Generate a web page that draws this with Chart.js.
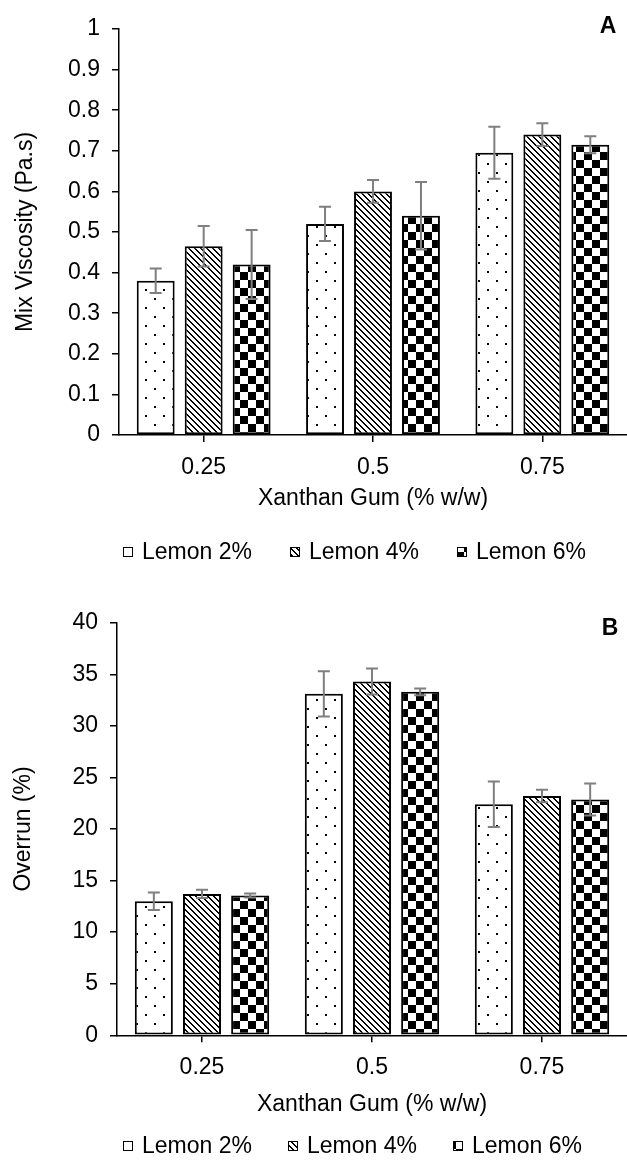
<!DOCTYPE html>
<html><head><meta charset="utf-8">
<script src="https://cdn.jsdelivr.net/npm/chart.js@4.4.0/dist/chart.umd.min.js"></script>
<style>
html,body{margin:0;padding:0;background:#fff;}
.wrap{position:relative;width:627px;height:581px;}
canvas{display:block;}
</style></head><body>
<div class="wrap"><canvas id="c1" width="627" height="581"></canvas></div>
<div class="wrap"><canvas id="c2" width="627" height="581"></canvas></div>
<script>
// ---- data ----
const categories = ['0.25', '0.5', '0.75'];
const seriesNames = ['Lemon 2%', 'Lemon 4%', 'Lemon 6%'];

const viscLemon2 = [0.38, 0.52, 0.695];
const viscLemon4 = [0.465, 0.60, 0.74];
const viscLemon6 = [0.42, 0.54, 0.715];
const viscErr2 = [0.03, 0.042, 0.064];
const viscErr4 = [0.05, 0.028, 0.028];
const viscErr6 = [0.085, 0.083, 0.021];

const overLemon2 = [13.0, 33.1, 22.4];
const overLemon4 = [13.7, 34.3, 23.2];
const overLemon6 = [13.55, 33.3, 22.85];
const overErr2 = [0.85, 2.2, 2.2];
const overErr4 = [0.4, 1.25, 0.6];
const overErr6 = [0.2, 0.33, 1.55];

// ---- patterns ----
function makeTile(w, h, draw) {
  const c = document.createElement('canvas'); c.width = w; c.height = h;
  const x = c.getContext('2d'); x.fillStyle = '#fff'; x.fillRect(0, 0, w, h);
  x.fillStyle = '#000'; draw(x, w, h); return c;
}
const tileDots = makeTile(18, 18, (x) => { x.fillRect(1, 1, 2, 2); x.fillRect(10, 10, 2, 2); });
const tileDiag = makeTile(6, 6, (x) => { for (let i = 0; i < 6; i++) { x.fillRect(i, i, 1, 1); x.fillRect((i + 1) % 6, i, 1, 1); } });
const tileCheck = makeTile(16, 16, (x) => { x.fillRect(0, 0, 8, 8); x.fillRect(8, 8, 8, 8); });
const tiles = [tileDots, tileDiag, tileCheck];

const FONT = "'Liberation Sans', Arial, Helvetica, sans-serif";
Chart.defaults.font.family = FONT;
Chart.defaults.font.size = 23;
Chart.defaults.color = '#000';

const errorBarPlugin = {
  id: 'errbars',
  afterDatasetsDraw(chart, args, o) {
    const ctx = chart.ctx, ys = chart.scales.y;
    ctx.save(); ctx.strokeStyle = o.color; ctx.lineWidth = o.width;
    chart.data.datasets.forEach((ds, i) => {
      chart.getDatasetMeta(i).data.forEach((bar, j) => {
        const v = ds.data[j], e = ds.errors[j];
        const x = bar.x, yt = ys.getPixelForValue(v + e), yb = ys.getPixelForValue(v - e);
        ctx.beginPath();
        ctx.moveTo(x, yt); ctx.lineTo(x, yb);
        ctx.moveTo(x - o.cap, yt); ctx.lineTo(x + o.cap, yt);
        ctx.moveTo(x - o.cap, yb); ctx.lineTo(x + o.cap, yb);
        ctx.stroke();
      });
    });
    ctx.restore();
  }
};

const customLegend = {
  id: 'customLegend',
  afterDraw(chart, args, o) {
    const ctx = chart.ctx; ctx.save();
    ctx.font = '23px ' + FONT; ctx.textBaseline = 'middle'; ctx.textAlign = 'left';
    chart.data.datasets.forEach((ds, i) => {
      const bx = o.x + i * o.step;
      ctx.fillStyle = ctx.createPattern(ds.tile, 'repeat');
      ctx.fillRect(bx, o.y - 5, 10, 10);
      ctx.strokeStyle = '#000'; ctx.lineWidth = 1;
      ctx.strokeRect(bx + 0.5, o.y - 4.5, 9, 9);
      ctx.fillStyle = '#000';
      ctx.fillText(ds.label, bx + 19, o.y + 1);
    });
    ctx.restore();
  }
};

const panelLabel = {
  id: 'panelLabel',
  afterDraw(chart, args, o) {
    const ctx = chart.ctx; ctx.save();
    ctx.font = 'bold 23px ' + FONT; ctx.textAlign = 'center'; ctx.textBaseline = 'middle';
    ctx.fillStyle = '#000'; ctx.fillText(o.text, o.x, o.y); ctx.restore();
  }
};

function buildChart(id, vals, errs, yCfg, xCfg, layoutPad, legendCfg, label) {
  const datasets = vals.map((d, i) => ({
    label: seriesNames[i],
    data: d,
    errors: errs[i],
    tile: tiles[i],
    backgroundColor: (c) => c.chart.ctx.createPattern(tiles[i], 'repeat'),
    borderColor: '#000',
    borderWidth: 2,
    borderSkipped: false,
    categoryPercentage: 0.85,
    barPercentage: 0.79
  }));
  return new Chart(document.getElementById(id), {
    type: 'bar',
    data: { labels: categories, datasets },
    options: {
      responsive: false, animation: false, devicePixelRatio: 1,
      layout: { padding: layoutPad },
      plugins: {
        legend: { display: false }, tooltip: { enabled: false },
        errbars: { color: '#7f7f7f', width: 2, cap: 6 },
        customLegend: legendCfg,
        panelLabel: label
      },
      scales: {
        x: {
          offset: true,
          grid: { offset: false, drawOnChartArea: false, drawTicks: true, tickLength: 7, color: '#000', lineWidth: 1.5 },
          border: { color: '#000', width: 1.5 },
          ticks: { padding: 12, color: '#000' },
          title: { display: true, text: 'Xanthan Gum (% w/w)', color: '#000', padding: { top: 4, bottom: 4 } },
          afterFit(s) { s.height = xCfg.height; }
        },
        y: {
          min: yCfg.min, max: yCfg.max,
          grid: { drawOnChartArea: false, drawTicks: true, tickLength: 7, color: '#000', lineWidth: 1.5 },
          border: { color: '#000', width: 1.5 },
          ticks: { stepSize: yCfg.step, padding: 12, color: '#000', callback: (v) => String(+v.toFixed(2)) },
          title: { display: true, text: yCfg.title, color: '#000', padding: { top: yCfg.titlePad, bottom: 0 } },
          afterFit(s) { s.width = yCfg.width; }
        }
      }
    },
    plugins: [errorBarPlugin, customLegend, panelLabel]
  });
}

buildChart('c1',
  [viscLemon2, viscLemon4, viscLemon6], [viscErr2, viscErr4, viscErr6],
  { min: 0, max: 1, step: 0.1, title: 'Mix Viscosity (Pa.s)', titlePad: 6, width: 113 },
  { height: 81 },
  { left: 6, right: 0, top: 29, bottom: 65 },
  { x: 123, step: 167, y: 552 },
  { text: 'A', x: 608, y: 27 });

buildChart('c2',
  [overLemon2, overLemon4, overLemon6], [overErr2, overErr4, overErr6],
  { min: 0, max: 40, step: 5, title: 'Overrun (%)', titlePad: 4, width: 111 },
  { height: 87 },
  { left: 6, right: 0, top: 41.7, bottom: 39.7 },
  { x: 123, step: 165, y: 565 },
  { text: 'B', x: 610, y: 48 });
</script>
</body></html>
